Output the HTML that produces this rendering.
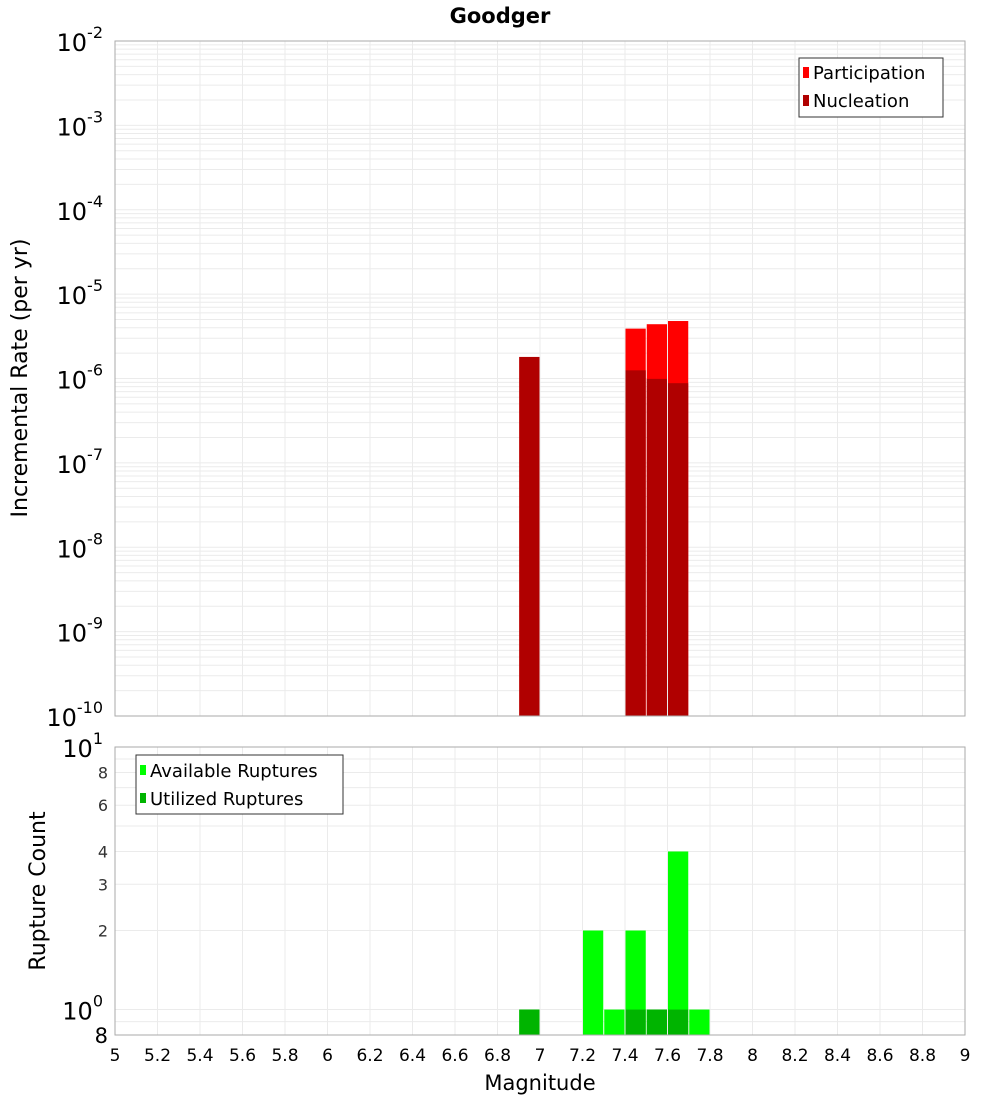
<!DOCTYPE html>
<html><head><meta charset="utf-8"><style>
body{margin:0;background:#fff;font-family:"Liberation Sans","DejaVu Sans",sans-serif;}
svg text{font-family:"DejaVu Sans","Liberation Sans",sans-serif;}
</style></head><body>
<svg id="chart" width="1000" height="1100" xmlns="http://www.w3.org/2000/svg">
<text x="500" y="23" text-anchor="middle" font-size="21" font-weight="bold">Goodger</text>
<g id="topgrp"></g><g id="botgrp"></g>
<text transform="translate(27,378) rotate(-90)" text-anchor="middle" font-size="22">Incremental Rate (per yr)</text>
<text transform="translate(45,891) rotate(-90)" text-anchor="middle" font-size="22">Rupture Count</text>
<text x="540" y="1090" text-anchor="middle" font-size="21">Magnitude</text>
</svg>
<script>
const bins=[6.95,7.45,7.55,7.65];
const participation=[1.8e-6,3.9e-6,4.4e-6,4.8e-6];
const nucleation=[1.8e-6,1.25e-6,9.9e-7,8.8e-7];
const countBins=[6.95,7.25,7.35,7.45,7.55,7.65,7.75];
const available=[1,2,1,2,1,4,1];
const utilizedBins=[6.95,7.45,7.55,7.65];
const utilized=[1,1,1,1];
const xTicks=[5,5.2,5.4,5.6,5.8,6,6.2,6.4,6.6,6.8,7,7.2,7.4,7.6,7.8,8,8.2,8.4,8.6,8.8,9];
const topDecades=[-10,-9,-8,-7,-6,-5,-4,-3,-2];
const botTicks=[2,3,4,6,8];

const NS="http://www.w3.org/2000/svg";
const L=115,R=965;
const X=m=>L+(m-5)/4*(R-L);
const T0=41,T1=716;
const Yt=v=>T1-(Math.log10(v)+10)/8*(T1-T0);
const B0=747,B1=1035;
const Yb=v=>B1-(Math.log10(v)-Math.log10(0.8))/(1-Math.log10(0.8))*(B1-B0);
function el(p,tag,a,txt){const e=document.createElementNS(NS,tag);for(const k in a)e.setAttribute(k,a[k]);if(txt!=null)e.textContent=txt;p.appendChild(e);return e;}
const topG=document.getElementById('topgrp'),botG=document.getElementById('botgrp');
const bw=(R-L)*0.1/4;
for(let d=-10;d<-2;d++)for(let k=1;k<10;k++){const y=Yt(k*Math.pow(10,d));const g=el(topG,'line',{x1:L,x2:R,y1:y,y2:y,stroke:'#ebebeb','stroke-width':1});

}
xTicks.forEach(t=>{const g=el(topG,'line',{x1:X(t),x2:X(t),y1:T0,y2:T1,stroke:'#ebebeb'});

});
bins.forEach((b,i)=>{
 const p=el(topG,'rect',{x:X(b)-bw/2+0.5,y:Yt(participation[i]),width:bw-1,height:T1-Yt(participation[i]),fill:'#ff0000'});
 
 
 const n=el(topG,'rect',{x:X(b)-bw/2+0.5,y:Yt(nucleation[i]),width:bw-1,height:T1-Yt(nucleation[i]),fill:'#b00000'});
 
 
});
const f1=el(topG,'rect',{x:L,y:T0,width:R-L,height:T1-T0,fill:'none',stroke:'#aaa'});


topDecades.forEach(d=>{const y=Yt(Math.pow(10,d));const t=el(topG,'text',{x:103,y:y+10,'text-anchor':'end','font-size':24},'10');
 
 
 el(t,'tspan',{dy:-13,'font-size':16},String(d));});
const lg=el(topG,'g',{});


el(lg,'rect',{x:799,y:58,width:144,height:59,fill:'#fff',stroke:'#333'});
el(lg,'rect',{x:803,y:67,width:6,height:11,fill:'#ff0000'});
el(lg,'text',{x:813,y:79,'font-size':18},'Participation');
el(lg,'rect',{x:803,y:95,width:6,height:11,fill:'#b00000'});
el(lg,'text',{x:813,y:107,'font-size':18},'Nucleation');
const bg=[0.8,0.9,1,2,3,4,5,6,7,8,9,10];
bg.forEach(v=>{const y=Yb(v);const g=el(botG,'line',{x1:L,x2:R,y1:y,y2:y,stroke:'#ebebeb'});

});
xTicks.forEach(t=>{const g=el(botG,'line',{x1:X(t),x2:X(t),y1:B0,y2:B1,stroke:'#ebebeb'});

});
countBins.forEach((b,i)=>{const r=el(botG,'rect',{x:X(b)-bw/2+0.5,y:Yb(available[i]),width:bw-1,height:B1-Yb(available[i]),fill:'#00ff00'});
 
 });
utilizedBins.forEach((b,i)=>{const r=el(botG,'rect',{x:X(b)-bw/2+0.5,y:Yb(utilized[i]),width:bw-1,height:B1-Yb(utilized[i]),fill:'#00b400'});
 
 });
const f2=el(botG,'rect',{x:L,y:B0,width:R-L,height:B1-B0,fill:'none',stroke:'#aaa'});


botTicks.forEach(v=>{const t=el(botG,'text',{x:108,y:Yb(v)+6,'text-anchor':'end','font-size':16,fill:'#333'},String(v));
 
 });
[[10,'1'],[1,'0']].forEach(([v,e])=>{const t=el(botG,'text',{x:103,y:Yb(v)+10,'text-anchor':'end','font-size':24},'10');
 
 
 el(t,'tspan',{dy:-13,'font-size':16},e);});
const t8=el(botG,'text',{x:108,y:B1+8,'text-anchor':'end','font-size':21},'8');


xTicks.forEach(t=>{const e=el(botG,'text',{x:X(t),y:1061,'text-anchor':'middle','font-size':17},String(t));
 
 });
const lg2=el(botG,'g',{});


el(lg2,'rect',{x:136,y:755,width:207,height:59,fill:'#fff',stroke:'#333'});
el(lg2,'rect',{x:140,y:765,width:6,height:10,fill:'#00ff00'});
el(lg2,'text',{x:150,y:777,'font-size':18},'Available Ruptures');
el(lg2,'rect',{x:140,y:793,width:6,height:10,fill:'#00b400'});
el(lg2,'text',{x:150,y:805,'font-size':18},'Utilized Ruptures');
</script>
</body></html>
